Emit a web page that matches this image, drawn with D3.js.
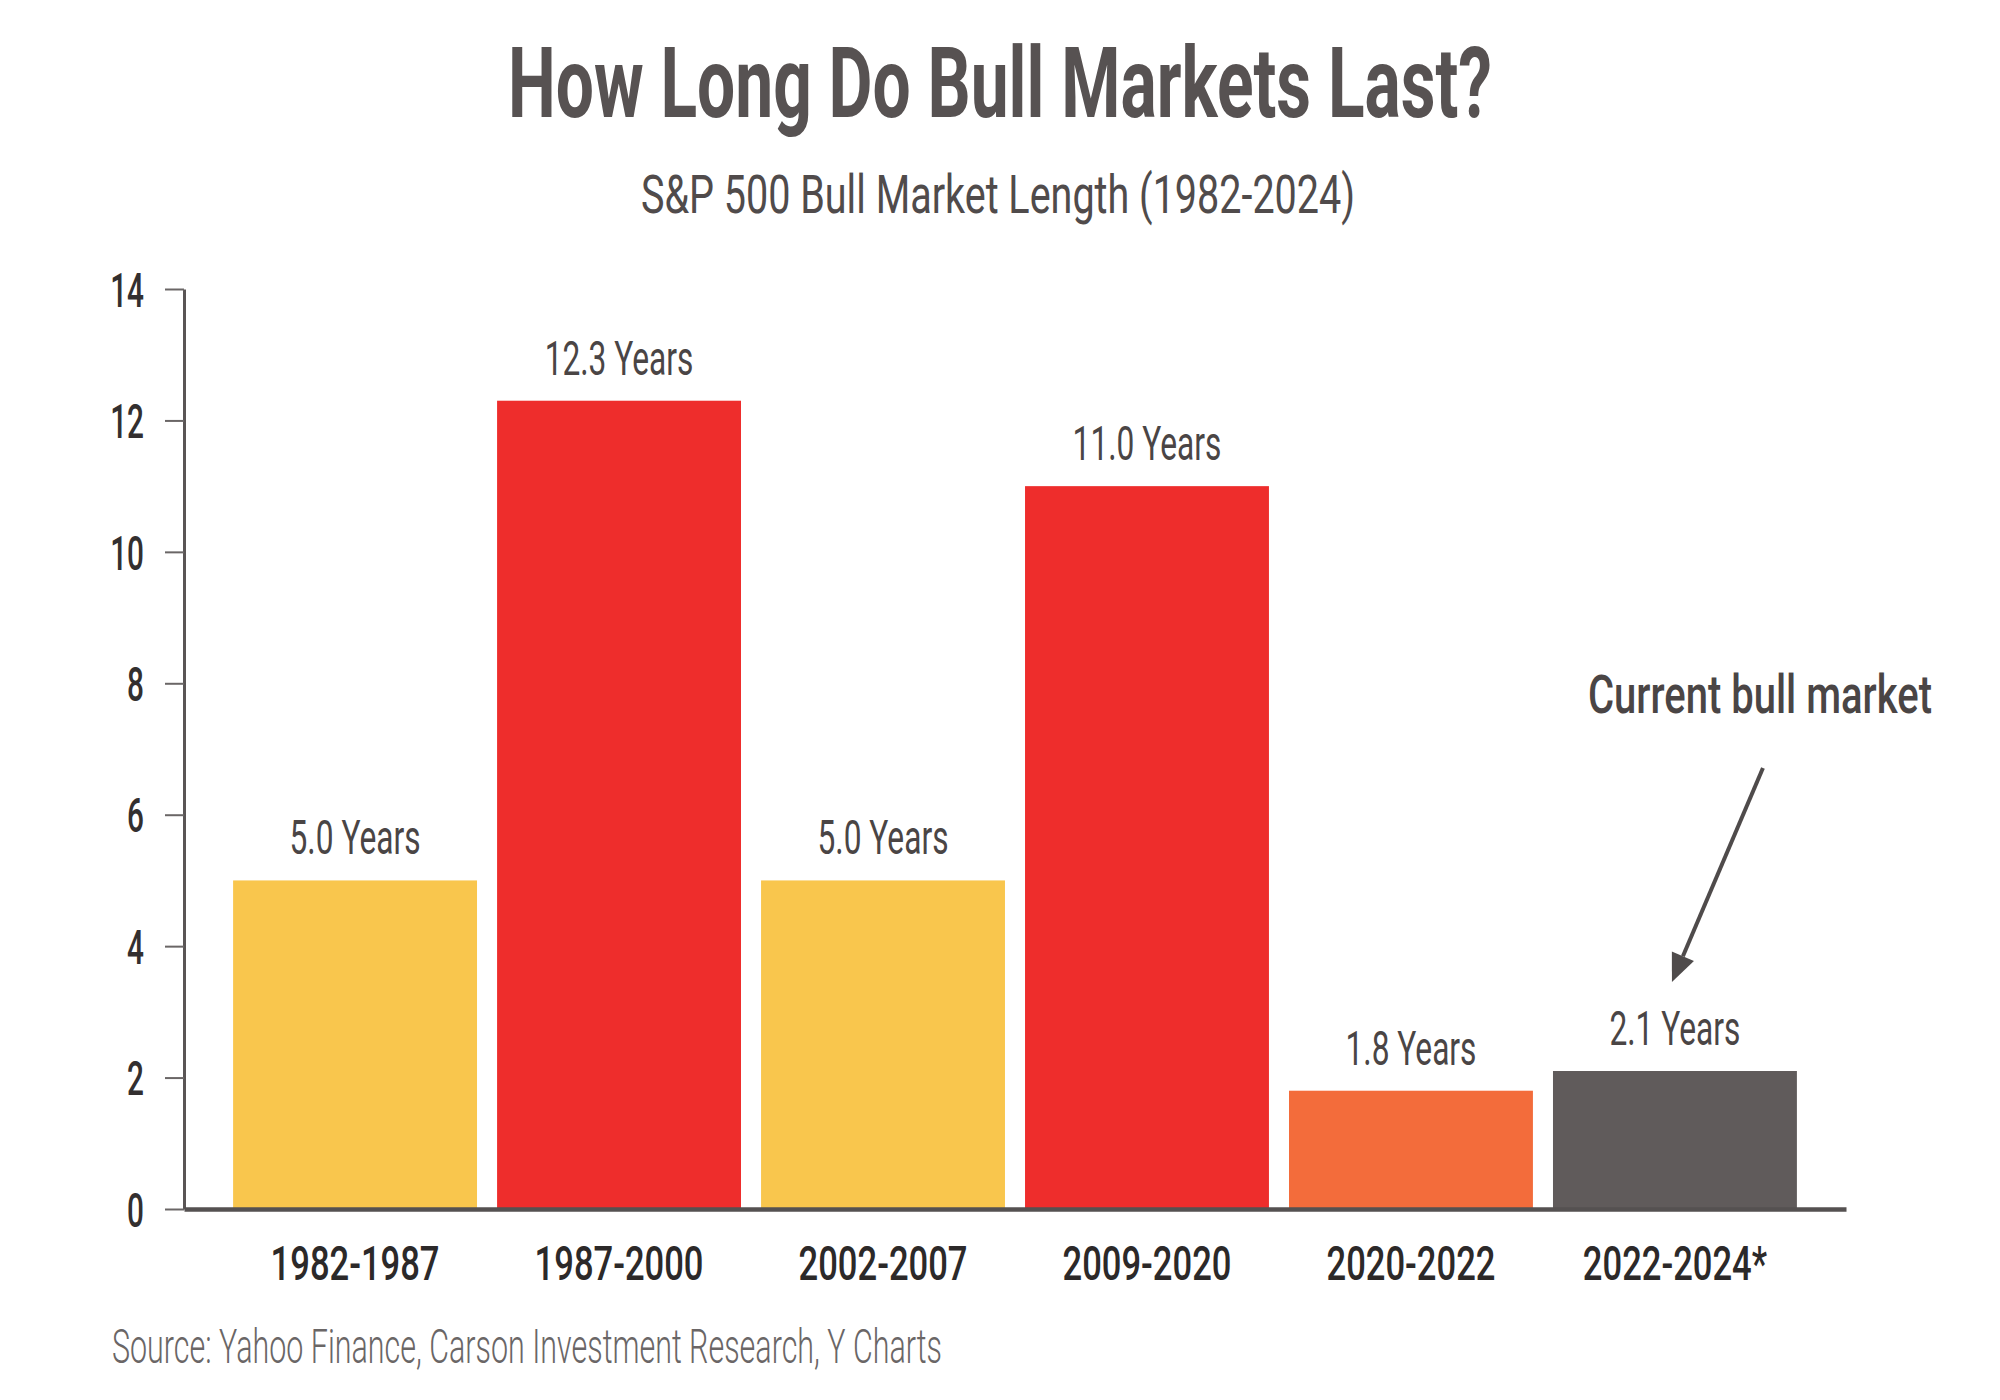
<!DOCTYPE html>
<html>
<head>
<meta charset="utf-8">
<title>How Long Do Bull Markets Last?</title>
<script src="https://cdn.jsdelivr.net/npm/d3@7"></script>
<style>
  html, body { margin: 0; padding: 0; background: #fff; }
  svg { display: block; font-family: Roboto, "Liberation Sans", sans-serif; }
</style>
</head>
<body>
<svg id="chart" width="2000" height="1400"></svg>
<script>

// data
var periods = ["1982-1987", "1987-2000", "2002-2007", "2009-2020", "2020-2022", "2022-2024*"];
var lengths = [5.0, 12.3, 5.0, 11.0, 1.8, 2.1];
var barColors = ["#F9C64D", "#EE2D2C", "#F9C64D", "#EE2D2C", "#F36C3B", "#605B5B"];
var yTicks = [0, 2, 4, 6, 8, 10, 12, 14];

var title = "How Long Do Bull Markets Last?";
var subtitle = "S&P 500 Bull Market Length (1982-2024)";
var note = "Current bull market";
var source = "Source: Yahoo Finance, Carson Investment Research, Y Charts";

var svg = d3.select("#chart");

// plot box
// (don't call these top/left: window.top is read-only)
var plotLeft = 184, plotRight = 1846, plotTop = 289, plotBottom = 1209;

var x = d3.scaleBand()
	.domain(periods)
	.range([plotLeft, plotRight])
	.paddingInner(0.076)
	.paddingOuter(0.186);

var y = d3.scaleLinear()
	.domain([0, 14])
	.range([plotBottom, plotTop]);

//squeeze text so it reads like the narrow face of the original
function condense(sel, k) {
	sel.each(function () {
		var w = this.getComputedTextLength();
		d3.select(this)
			.attr("textLength", w * k)
			.attr("lengthAdjust", "spacingAndGlyphs");
	});
}

function fitWidth(sel, w) {
	sel.attr("textLength", w).attr("lengthAdjust", "spacingAndGlyphs");
}

// titles
svg.append("text")
	.attr("x", 1000).attr("y", 117)
	.attr("text-anchor", "middle")
	.attr("font-size", 98)
	.attr("font-weight", 700)
	.attr("fill", "#575252")
	.text(title)
	.call(fitWidth, 984);

svg.append("text")
	.attr("x", 998).attr("y", 213)
	.attr("text-anchor", "middle")
	.attr("font-size", 53)
	.attr("fill", "#504b4b")
	.text(subtitle)
	.call(fitWidth, 714);

// bars
svg.append("g")
	.selectAll("rect")
	.data(periods)
	.join("rect")
	.attr("x", function (d) { return x(d); })
	.attr("y", function (d, i) { return y(lengths[i]); })
	.attr("width", x.bandwidth())
	.attr("height", function (d, i) { return y(0) - y(lengths[i]); })
	.attr("fill", function (d, i) { return barColors[i]; });

// value labels
var valueLabels = svg.append("g")
	.selectAll("text")
	.data(periods)
	.join("text")
	.attr("x", function (d) { return x(d) + x.bandwidth() / 2; })
	.attr("y", function (d, i) { return y(lengths[i]) - 26; })
	.attr("text-anchor", "middle")
	.attr("font-size", 48)
	.attr("fill", "#4a4545")
	.text(function (d, i) { return lengths[i].toFixed(1) + " Years"; });
condense(valueLabels, 0.66);

// y axis
var yAxis = svg.append("g")
	.attr("transform", "translate(" + plotLeft + ",0)")
	.call(d3.axisLeft(y).tickValues(yTicks).tickSize(19).tickSizeOuter(0).tickPadding(21));
yAxis.select(".domain").attr("stroke", "#5a5555").attr("stroke-width", 3);
yAxis.selectAll(".tick line").attr("stroke", "#6a6666").attr("stroke-width", 2);
yAxis.selectAll(".tick text")
	.attr("font-size", 48)
	.attr("font-family", "Roboto, sans-serif")
	.attr("font-weight", 500)
	.attr("dy", "0.36em")
	.attr("fill", "#332f2f");
condense(yAxis.selectAll(".tick text"), 0.62);

// x axis
var xAxis = svg.append("g")
	.attr("transform", "translate(0," + plotBottom + ")")
	.call(d3.axisBottom(x).tickSize(0).tickSizeOuter(0));
xAxis.select(".domain").attr("stroke", "#555151").attr("stroke-width", 4.5);
xAxis.selectAll(".tick text")
	.attr("y", 71)
	.attr("dy", null)
	.attr("font-size", 48)
	.attr("font-family", "Roboto, sans-serif")
	.attr("font-weight", 500)
	.attr("fill", "#2c2929");
condense(xAxis.selectAll(".tick text"), 0.72);

// annotation for the last bar
var lastP = periods[periods.length - 1];
var tipX = x(lastP) + x.bandwidth() / 2 - 3,
	tipY = y(lengths[lengths.length - 1]) - 89;
var startX = tipX + 91, startY = tipY - 214;
var ang = Math.atan2(tipY - startY, tipX - startX);
var headLen = 28, headHalf = 12;
var baseX = tipX - headLen * Math.cos(ang), baseY = tipY - headLen * Math.sin(ang);

svg.append("line")
	.attr("x1", startX).attr("y1", startY)
	.attr("x2", baseX).attr("y2", baseY)
	.attr("stroke", "#4f4b4b")
	.attr("stroke-width", 4);

svg.append("path")
	.attr("d", "M" + tipX + "," + tipY +
		"L" + (baseX + headHalf * Math.sin(ang)) + "," + (baseY - headHalf * Math.cos(ang)) +
		"L" + (baseX - headHalf * Math.sin(ang)) + "," + (baseY + headHalf * Math.cos(ang)) + "Z")
	.attr("fill", "#4f4b4b");

// smaller face stretched tall, so the natural width stays inside the page
svg.append("text")
	.attr("transform", "translate(" + (startX - 3) + ",713) scale(1,1.2)")
	.attr("text-anchor", "middle")
	.attr("font-size", 44)
	.attr("font-weight", 500)
	.attr("fill", "#4a4545")
	.text(note)
	.call(fitWidth, 344);

// source line
svg.append("text")
	.attr("x", 112).attr("y", 1363)
	.attr("font-size", 48)
	.attr("font-weight", 300)
	.attr("fill", "#6a6666")
	.text(source)
	.call(fitWidth, 830);

</script>
</body>
</html>
